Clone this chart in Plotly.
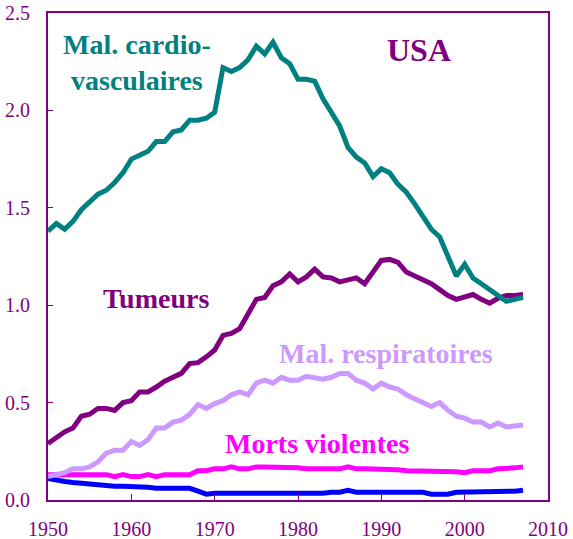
import plotly.graph_objects as go

years = list(range(1950, 2008))

cardio = [1.38, 1.42, 1.39, 1.43, 1.49, 1.53, 1.57, 1.59, 1.63, 1.68,
          1.75, 1.77, 1.79, 1.84, 1.84, 1.89, 1.90, 1.95, 1.95, 1.96,
          1.99, 2.22, 2.20, 2.22, 2.26, 2.33, 2.29, 2.35, 2.27, 2.24,
          2.16, 2.16, 2.15, 2.06, 1.99, 1.92, 1.81, 1.76, 1.73, 1.66,
          1.70, 1.68, 1.62, 1.58, 1.52, 1.45, 1.39, 1.35, 1.25, 1.15,
          1.21, 1.14, 1.11, 1.08, 1.05, 1.02, 1.03, 1.04]

tumeurs = [0.29, 0.32, 0.35, 0.37, 0.43, 0.44, 0.47, 0.47, 0.46, 0.50,
           0.51, 0.555, 0.555, 0.58, 0.61, 0.63, 0.65, 0.70, 0.705, 0.735,
           0.77, 0.845, 0.855, 0.88, 0.96, 1.03, 1.04, 1.10, 1.12, 1.16,
           1.12, 1.145, 1.185, 1.145, 1.14, 1.12, 1.13, 1.14, 1.11, 1.17,
           1.23, 1.235, 1.22, 1.17, 1.15, 1.13, 1.11, 1.08, 1.05, 1.03,
           1.045, 1.055, 1.03, 1.01, 1.035, 1.05, 1.05, 1.055]

respiratoires = [0.12, 0.13, 0.14, 0.16, 0.16, 0.17, 0.196, 0.24, 0.256, 0.256,
                 0.30, 0.28, 0.31, 0.37, 0.37, 0.40, 0.41, 0.44, 0.49, 0.47,
                 0.495, 0.51, 0.54, 0.555, 0.54, 0.60, 0.615, 0.60, 0.63, 0.615,
                 0.615, 0.635, 0.63, 0.62, 0.63, 0.65, 0.65, 0.615, 0.60, 0.57,
                 0.60, 0.58, 0.57, 0.54, 0.52, 0.50, 0.48, 0.50, 0.46, 0.43,
                 0.42, 0.40, 0.40, 0.375, 0.395, 0.375, 0.38, 0.385]

violentes = [0.13, 0.13, 0.13, 0.13, 0.13, 0.13, 0.13, 0.13, 0.12, 0.13,
             0.12, 0.12, 0.13, 0.12, 0.13, 0.13, 0.13, 0.13, 0.15, 0.15,
             0.16, 0.16, 0.17, 0.16, 0.16, 0.17, 0.17, 0.17, 0.17, 0.17,
             0.165, 0.16, 0.16, 0.16, 0.165, 0.16, 0.17, 0.16, 0.16, 0.16,
             0.16, 0.16, 0.155, 0.15, 0.15, 0.15, 0.15, 0.15, 0.15, 0.145,
             0.14, 0.15, 0.15, 0.15, 0.16, 0.16, 0.165, 0.17]

autres = [0.11, 0.10, 0.095, 0.09, 0.085, 0.08, 0.075, 0.075, 0.07, 0.07,
          0.07, 0.07, 0.065, 0.06, 0.06, 0.06, 0.06, 0.06, 0.045, 0.03,
          0.035, 0.035, 0.035, 0.03, 0.03, 0.03, 0.03, 0.035, 0.035, 0.035,
          0.035, 0.035, 0.035, 0.035, 0.04, 0.04, 0.05, 0.04, 0.04, 0.04,
          0.04, 0.04, 0.04, 0.04, 0.04, 0.04, 0.03, 0.03, 0.03, 0.04,
          0.04, 0.04, 0.04, 0.04, 0.04, 0.04, 0.045, 0.05]

x_ticks = [1950, 1960, 1970, 1980, 1990, 2000, 2010]
y_ticks = [0.0, 0.5, 1.0, 1.5, 2.0, 2.5]

AXIS = "#800080"
SERIF = "'Times New Roman', 'Liberation Serif', 'DejaVu Serif', serif"

series = [
    (autres, "#0000FF"),
    (violentes, "#FF00FF"),
    (respiratoires, "#CC99FF"),
    (tumeurs, "#800080"),
    (cardio, "#008080"),
]

fig = go.Figure()
for values, color in series:
    fig.add_trace(go.Scatter(x=years, y=values, mode="lines",
                             line=dict(color=color, width=5),
                             showlegend=False, hoverinfo="skip"))

labels = [
    ("Mal. cardio-<br>vasculaires", 1960.7, 2.245, "#008080", 28),
    ("USA", 1994.5, 2.31, "#800080", 32),
    ("Tumeurs", 1962.9, 1.036, "#800080", 28),
    ("Mal. respiratoires", 1990.5, 0.75, "#CC99FF", 28),
    ("Morts violentes", 1982.3, 0.29, "#FF00FF", 28),
]
for text, xa, ya, color, size in labels:
    fig.add_annotation(x=xa, y=ya, text=f"<b>{text}</b>", showarrow=False,
                       xanchor="center", yanchor="middle",
                       font=dict(family=SERIF, size=size, color=color))

axis_common = dict(showline=True, linecolor=AXIS, linewidth=2, mirror=True,
                   ticks="inside", tickcolor=AXIS, tickwidth=1,
                   showgrid=False, zeroline=False, automargin=False,
                   tickfont=dict(family=SERIF, size=20, color=AXIS))

fig.update_xaxes(range=[1950, 2010], tickvals=x_ticks, ticklen=6,
                 ticklabelstandoff=10, **axis_common)
fig.update_yaxes(range=[0, 2.5], tickvals=y_ticks, tickformat=".1f", ticklen=5,
                 ticklabelstandoff=12, **axis_common)

fig.update_layout(width=573, height=539,
                  margin=dict(l=48, r=25, t=13, b=39),
                  font=dict(family=SERIF),
                  plot_bgcolor="white", paper_bgcolor="white")

fig.write_html("out.html")
